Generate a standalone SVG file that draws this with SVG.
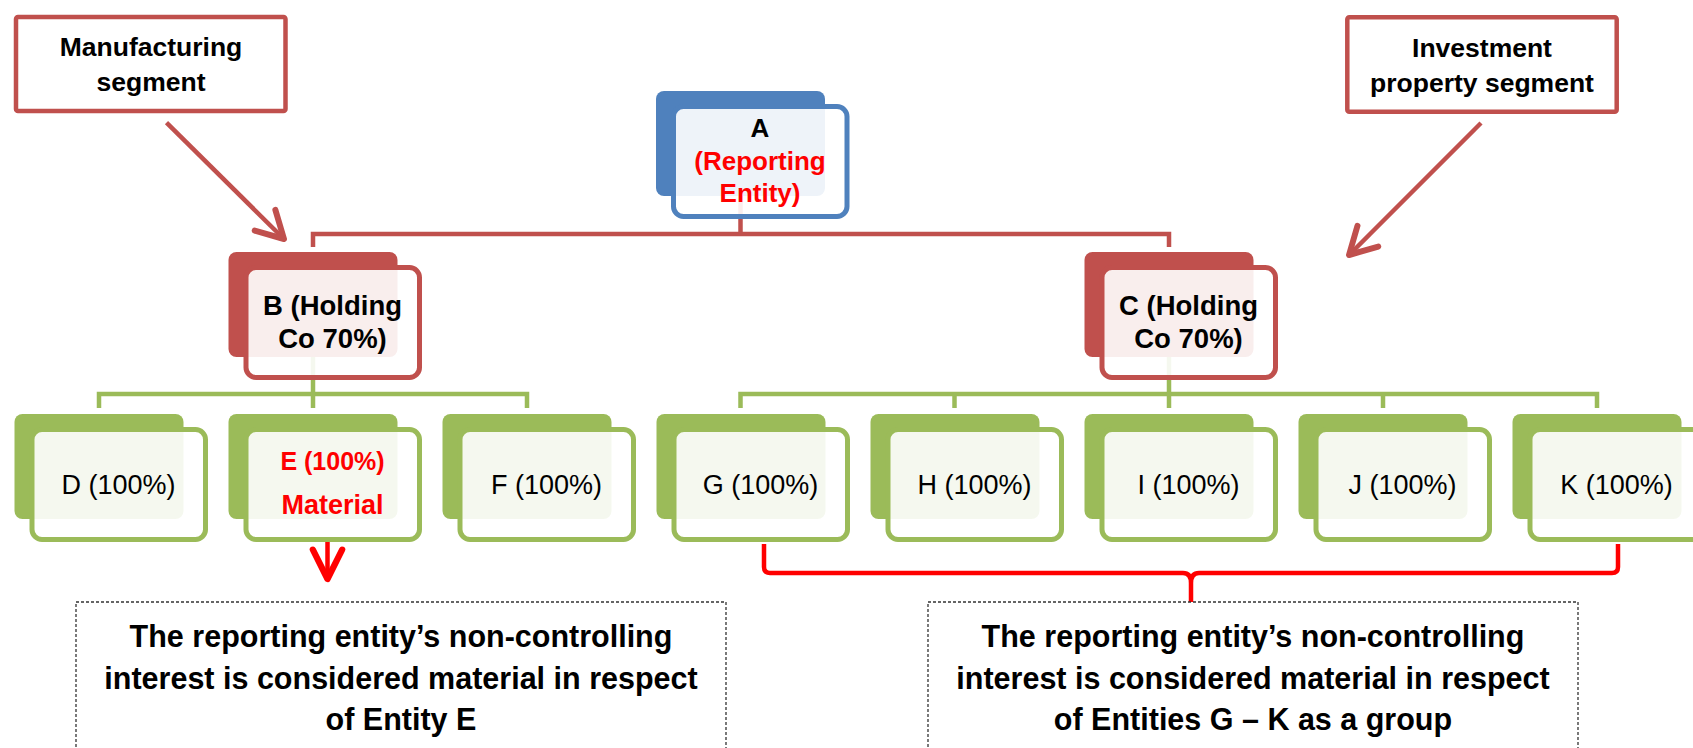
<svg xmlns="http://www.w3.org/2000/svg" width="1693" height="748" viewBox="0 0 1693 748">
<style>
text{font-family:"Liberation Sans",Arial,sans-serif;text-anchor:middle;fill:#000}
.b{font-weight:bold}
.red{fill:#FF0000}
.callout{fill:#fff;stroke:#C0504D;stroke-width:4.5}
.cl{font-size:26.5px;font-weight:bold}
.rb{fill:#C0504D}
.rf{fill:#fff;fill-opacity:0.9;stroke:#C0504D;stroke-width:5}
.bb{fill:#4F81BD}
.bf{fill:#fff;fill-opacity:0.9;stroke:#4F81BD;stroke-width:5}
.gb{fill:#9BBB59}
.gf{fill:#fff;fill-opacity:0.9;stroke:#9BBB59;stroke-width:5}
.cr{fill:none;stroke:#C0504D;stroke-width:4.5}
.cg{fill:none;stroke:#9BBB59;stroke-width:4.5}
.cx{fill:none;stroke:#FF0000;stroke-width:4.5;stroke-linejoin:round}
.dash{fill:#fff;stroke:#333;stroke-width:1.3;stroke-dasharray:3 2}
.big{font-size:30.5px;font-weight:bold}
.ch{font-size:27px}
.hd{font-size:27.5px;font-weight:bold}
.an{font-size:26px;font-weight:bold}
</style>
<defs>
<marker id="arrR" markerUnits="userSpaceOnUse" markerWidth="40" markerHeight="40" viewBox="-25 -15 30 30" refX="0" refY="0" orient="auto">
<path d="M-20 -11 L0 0 L-20 11" fill="none" stroke="#C0504D" stroke-width="4.5" stroke-linejoin="round" stroke-linecap="round"/>
</marker>
<marker id="arrX" markerUnits="userSpaceOnUse" markerWidth="40" markerHeight="40" viewBox="-25 -15 30 30" refX="0" refY="0" orient="auto">
<path d="M-22 -11 L0 0 L-22 11" fill="none" stroke="#FF0000" stroke-width="4.7" stroke-linejoin="round" stroke-linecap="round"/>
</marker>
</defs>
<g id="connectors">
<path class="cr" d="M313 247 V234 H1169 V247"/>
<path class="cr" d="M740.5 150 V234"/>
<path class="cg" d="M99 408 V394 H527 V408"/>
<path class="cg" d="M313 300 V408"/>
<path class="cg" d="M740.5 408 V394 H1597 V408"/>
<path class="cg" d="M954.5 394 V408"/>
<path class="cg" d="M1169 300 V408"/>
<path class="cg" d="M1383 394 V408"/>
<path class="cr" d="M166.5 122.7 L284 239" marker-end="url(#arrR)"/>
<path class="cr" d="M1481 123 L1349 255" marker-end="url(#arrR)"/>
<path class="cx" d="M327.5 542 V579" marker-end="url(#arrX)"/>
<path class="cx" d="M764 544 V567 Q764 573 770 573 H1183 Q1191 573 1191 583 V605 M1191 583 Q1191 573 1199 573 H1612 Q1618 573 1618 567 V544"/>
</g>
<g id="manufacturing">
<rect class="callout" x="16" y="17" width="269.5" height="94" rx="2"/>
<text class="cl" x="151" y="56">Manufacturing</text>
<text class="cl" x="151" y="91">segment</text>
</g>
<g id="investment">
<rect class="callout" x="1347.3" y="17.2" width="269.4" height="94.6" rx="2"/>
<text class="cl" x="1482" y="57">Investment</text>
<text class="cl" x="1482" y="92">property segment</text>
</g>
<g id="nodeA">
<rect class="bb" x="656" y="91" width="169" height="105" rx="8"/>
<rect class="bf" x="673.5" y="106.5" width="173.5" height="110" rx="10"/>
<text class="an" x="760" y="137">A</text>
<text class="an red" x="760" y="170">(Reporting</text>
<text class="an red" x="760" y="202">Entity)</text>
</g>
<g id="nodeB">
<rect class="rb" x="228.5" y="252" width="169" height="105" rx="8"/>
<rect class="rf" x="246" y="267.5" width="173.5" height="110" rx="10"/>
<text class="hd" x="332.5" y="315">B (Holding</text>
<text class="hd" x="332.5" y="348">Co 70%)</text>
</g>
<g id="nodeC">
<rect class="rb" x="1084.5" y="252" width="169" height="105" rx="8"/>
<rect class="rf" x="1102" y="267.5" width="173.5" height="110" rx="10"/>
<text class="hd" x="1188.5" y="315">C (Holding</text>
<text class="hd" x="1188.5" y="348">Co 70%)</text>
</g>
<g id="nodeD">
<rect class="gb" x="14.5" y="414" width="169" height="105" rx="8"/>
<rect class="gf" x="32" y="429.5" width="173.5" height="110" rx="10"/>
<text class="ch" x="118.5" y="493.5">D (100%)</text>
</g>
<g id="nodeE">
<rect class="gb" x="228.5" y="414" width="169" height="105" rx="8"/>
<rect class="gf" x="246" y="429.5" width="173.5" height="110" rx="10"/>
<text class="b red" style="font-size:25px" x="332.5" y="470">E (100%)</text>
<text class="b red" style="font-size:27px" x="332.5" y="514">Material</text>
</g>
<g id="nodeF">
<rect class="gb" x="442.5" y="414" width="169" height="105" rx="8"/>
<rect class="gf" x="460" y="429.5" width="173.5" height="110" rx="10"/>
<text class="ch" x="546.5" y="493.5">F (100%)</text>
</g>
<g id="nodeG">
<rect class="gb" x="656.5" y="414" width="169" height="105" rx="8"/>
<rect class="gf" x="674" y="429.5" width="173.5" height="110" rx="10"/>
<text class="ch" x="760.5" y="493.5">G (100%)</text>
</g>
<g id="nodeH">
<rect class="gb" x="870.5" y="414" width="169" height="105" rx="8"/>
<rect class="gf" x="888" y="429.5" width="173.5" height="110" rx="10"/>
<text class="ch" x="974.5" y="493.5">H (100%)</text>
</g>
<g id="nodeI">
<rect class="gb" x="1084.5" y="414" width="169" height="105" rx="8"/>
<rect class="gf" x="1102" y="429.5" width="173.5" height="110" rx="10"/>
<text class="ch" x="1188.5" y="493.5">I (100%)</text>
</g>
<g id="nodeJ">
<rect class="gb" x="1298.5" y="414" width="169" height="105" rx="8"/>
<rect class="gf" x="1316" y="429.5" width="173.5" height="110" rx="10"/>
<text class="ch" x="1402.5" y="493.5">J (100%)</text>
</g>
<g id="nodeK">
<rect class="gb" x="1512.5" y="414" width="169" height="105" rx="8"/>
<rect class="gf" x="1530" y="429.5" width="173.5" height="110" rx="10"/>
<text class="ch" x="1616.5" y="493.5">K (100%)</text>
</g>
<g id="noteE">
<rect class="dash" x="76" y="602" width="650" height="200"/>
<text class="big" x="401" y="647">The reporting entity’s non-controlling</text>
<text class="big" x="401" y="689">interest is considered material in respect</text>
<text class="big" x="401" y="730">of Entity E</text>
</g>
<g id="noteGK">
<rect class="dash" x="928" y="602" width="650" height="200"/>
<text class="big" x="1253" y="647">The reporting entity’s non-controlling</text>
<text class="big" x="1253" y="689">interest is considered material in respect</text>
<text class="big" x="1253" y="730">of Entities G – K as a group</text>
</g>
</svg>
